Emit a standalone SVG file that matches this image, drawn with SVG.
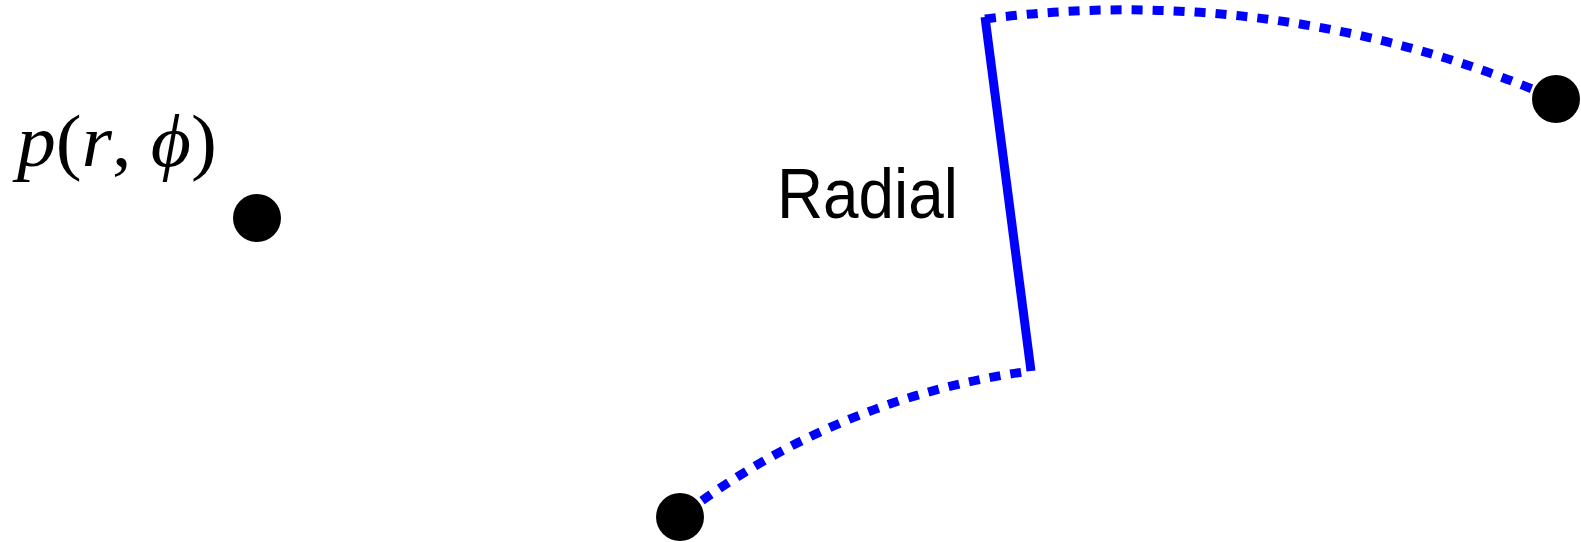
<svg xmlns="http://www.w3.org/2000/svg" width="1581" height="542" viewBox="0 0 1581 542">
<style>
.dot{fill:#000}
.solid{fill:none;stroke:#0000ff;stroke-width:9}
.dash{fill:none;stroke:#0000ff;stroke-width:9;stroke-dasharray:11 10}
.math{font-family:"Liberation Serif","DejaVu Serif",serif;font-size:73px;fill:#000}
.lbl{font-family:"Liberation Sans","DejaVu Sans",sans-serif;font-size:71px;fill:#000}
</style>
<rect width="1581" height="542" fill="#fff"/>
<g id="connectors">
<path class="dash" d="M985,19 A1083,1083 0 0 1 1556,99"/>
<path class="solid" d="M985,17 L1031,371"/>
<path class="dash" stroke-dashoffset="11" d="M1031,371 A728,728 0 0 0 680,517"/>
</g>
<g id="point-p">
<circle class="dot" cx="257" cy="218" r="24"/>
<text class="math" x="17" y="166" textLength="200" lengthAdjust="spacingAndGlyphs"><tspan font-style="italic">p</tspan>(<tspan font-style="italic">r</tspan>, <tspan font-style="italic">ϕ</tspan>)</text>
</g>
<g id="point-bottom"><circle class="dot" cx="680" cy="517" r="24"/></g>
<g id="point-right"><circle class="dot" cx="1556" cy="99" r="24"/></g>
<g id="label-radial"><text class="lbl" x="777" y="218" textLength="181" lengthAdjust="spacingAndGlyphs">Radial</text></g>
</svg>
